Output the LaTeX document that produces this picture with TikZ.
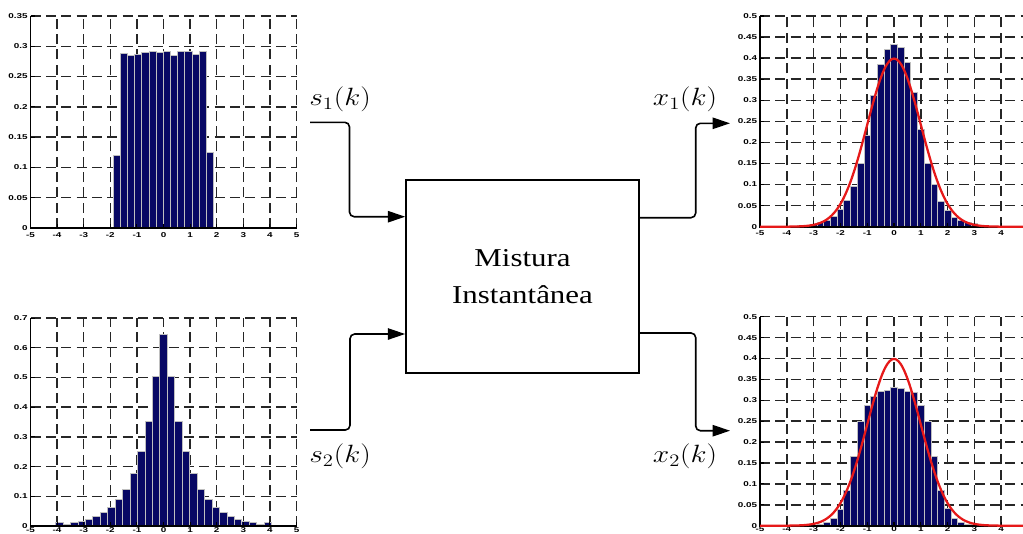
\RequirePackage{fix-cm}
\documentclass[tikz,border=0pt]{standalone}
\usepackage{fontspec}
\usepackage{graphicx}
\usetikzlibrary{arrows.meta}
\newfontfamily\boxfont{Liberation Serif}
\newfontfamily\tickfont{Liberation Sans}
\definecolor{barblue}{RGB}{8,8,100}
\definecolor{curvered}{RGB}{230,25,25}
\newcommand\ticklabelfont{\fontsize{5.3}{6}\tickfont\bfseries}
\tikzset{
  gridline/.style={line width=1.1pt, black!85, dash pattern=on 7.5pt off 4pt},
  axisline/.style={line width=1.2pt, black},
  tickline/.style={line width=0.8pt, black},
  barstyle/.style={fill=barblue, draw=gray!50, line width=0.45pt},
  curve/.style={curvered, line width=1.7pt},
  ylab/.style={anchor=east, inner sep=0pt, xshift=-2pt, font=\ticklabelfont},
  xlab/.style={anchor=north, inner sep=0pt, yshift=-3pt, font=\ticklabelfont},
  conn/.style={line width=1.2pt, rounded corners=3.5pt, -{Triangle[length=13pt,width=8.5pt]}},
  sig/.style={inner sep=0pt, font=\fontsize{18.75}{22}\selectfont},
  mixbox/.style={draw, line width=1.2pt, minimum width=174.75pt, minimum height=144.5pt,
    inner sep=0pt, align=center, font={\fontsize{19.3}{27.5}\boxfont}},
}
% #1 number of y steps, #2 y step
\newcommand\plotgrid[2]{%
  \foreach \i in {-4,...,5} {\draw[gridline] (\i,0) -- (\i,{#1*#2});}
  \foreach \j in {1,...,#1} {\draw[gridline] (-5,{\j*#2}) -- (5,{\j*#2});}
}
% #1 n, #2 step, #3 prefix, #4 y label texts, #5 last x label
\newcommand\plotaxes[5]{%
  \draw[axisline] (-5,{#1*#2}) -- (-5,0) -- (5,0);
  \foreach \t [count=\j from 0] in {#4} {
    \draw[tickline] (-5,{\j*#2}) -- ++(3pt,0);
    \node[ylab] (#3y\j) at (-5,{\j*#2}) {\scalebox{1.4}[1]{\t}};
  }
  \foreach \i in {-5,...,5} {\draw[tickline] (\i,0) -- ++(0,3pt);}
  \foreach \i [count=\c] in {-5,...,#5} {
    \node[xlab] (#3x\c) at (\i,0) {\scalebox{1.4}[1]{\i}};
  }
}
\begin{document}
\begin{tikzpicture}[x=0.75pt, y=-0.75pt]
\useasboundingbox (0,0) rectangle (1023,533);

% ---- top-left: uniform source
\begin{scope}[shift={(163.5,228)}, x=19.95pt, y=454.3pt]
  \plotgrid{7}{0.05}
  \foreach \h [count=\k from 0] in {0.12,0.289,0.285,0.286,0.29,0.291,0.29,0.292,0.285,0.291,0.292,0.287,0.291,0.125}
    {\draw[barstyle] ({-1.9+\k*0.27},0) rectangle ({-1.9+(\k+1)*0.27},\h);}
  \plotaxes{7}{0.05}{tl}{0,0.05,0.1,0.15,0.2,0.25,0.3,0.35}{5}
\end{scope}

% ---- bottom-left: laplacian source
\begin{scope}[shift={(163.5,526)}, x=19.95pt, y=222.8pt, xlab/.append style={yshift=2.2pt}]
  \plotgrid{7}{0.1}
  \foreach \h [count=\k from 0] in {0.645,0.503,0.354,0.25,0.178,0.124,0.09,0.064,0.045,0.033,0.024,0.017,0.011,0.007,0.012}
    {\draw[barstyle] ({(\k-0.5)*0.28},0) rectangle ({(\k+0.5)*0.28},\h);
     \draw[barstyle] ({-(\k+0.5)*0.28},0) rectangle ({-(\k-0.5)*0.28},\h);}
  \plotaxes{7}{0.1}{bl}{0,0.1,0.2,0.3,0.4,0.5,0.6,0.7}{5}
\end{scope}

% ---- top-right: mixture 1
\begin{scope}[shift={(894,226.7)}, x=20.1pt, y=316.05pt]
  \plotgrid{10}{0.05}
  \foreach \hl/\hr [count=\k from 0] in {0.433/0.433,0.42/0.425,0.385/0.39,0.313/0.32,0.218/0.23,0.15/0.15,0.097/0.1,0.063/0.06,0.041/0.04,0.025/0.023,0.016/0.015,0.01/0.01,0.006/0.007,0.004/0.004,0.003/0.002,0.002/0.002}
    {\draw[barstyle] ({(\k-0.5)*0.25},0) rectangle ({(\k+0.5)*0.25},\hr);
     \draw[barstyle] ({-(\k+0.5)*0.25},0) rectangle ({-(\k-0.5)*0.25},\hl);}
  \plotaxes{10}{0.05}{tr}{0,0.05,0.1,0.15,0.2,0.25,0.3,0.35,0.4,0.45,0.5}{4}
  \draw[curve] plot[domain=-5:5, samples=121, smooth] (\x,{0.39894*exp(-0.5*\x*\x)});
\end{scope}

% ---- bottom-right: mixture 2
\begin{scope}[shift={(894,525.7)}, x=20.1pt, y=313.5pt, xlab/.append style={yshift=2.2pt}]
  \plotgrid{10}{0.05}
  \foreach \hl/\hr [count=\k from 0] in {0.332/0.332,0.325/0.328,0.322/0.322,0.31/0.318,0.289/0.289,0.249/0.249,0.167/0.167,0.085/0.085,0.04/0.041,0.018/0.018,0.008/0.007,0.003/0.003}
    {\draw[barstyle] ({(\k-0.5)*0.25},0) rectangle ({(\k+0.5)*0.25},\hr);
     \draw[barstyle] ({-(\k+0.5)*0.25},0) rectangle ({-(\k-0.5)*0.25},\hl);}
  \plotaxes{10}{0.05}{br}{0,0.05,0.1,0.15,0.2,0.25,0.3,0.35,0.4,0.45,0.5}{4}
  \draw[curve] plot[domain=-5:5, samples=121, smooth] (\x,{0.39894*exp(-0.5*\x*\x)});
\end{scope}

% ---- mixing block
\node[mixbox] (mix) at (522.5,276.4) {\scalebox{1.2}[1]{Mistura}\\\scalebox{1.2}[1]{Instantânea}};

% ---- signal labels
\node[sig] (ls1) at (340,99) {\scalebox{1.18}[1]{$s_1(k)$}};
\node[sig] (ls2) at (340,456) {\scalebox{1.18}[1]{$s_2(k)$}};
\node[sig] (lx1) at (685,99) {\scalebox{1.18}[1]{$x_1(k)$}};
\node[sig] (lx2) at (685,456) {\scalebox{1.18}[1]{$x_2(k)$}};

% ---- connectors
\coordinate (s1in) at (310,122.3);
\coordinate (s1bend) at (349.5,216.7);
\coordinate (s2in) at (310,430);
\coordinate (s2bend) at (350,334);
\coordinate (x1bend) at (695.7,217.7);
\coordinate (x1out) at (730,123.3);
\coordinate (x2bend) at (695.7,333);
\coordinate (x2out) at (730,430.7);

\draw[conn] (s1in) -| (s1bend) -- (s1bend -| mix.west);
\draw[conn] (s2in) -| (s2bend) -- (s2bend -| mix.west);
\draw[conn] (x1bend -| mix.east) -- (x1bend) |- (x1out);
\draw[conn] (x2bend -| mix.east) -- (x2bend) |- (x2out);
\end{tikzpicture}
\end{document}
